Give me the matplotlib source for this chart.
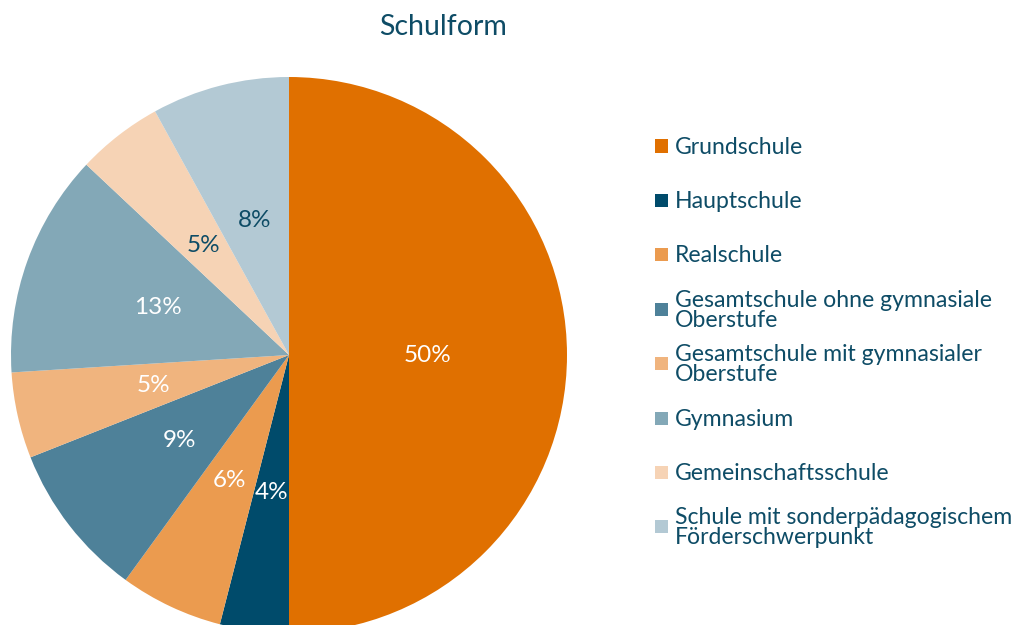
import matplotlib.pyplot as plt
import numpy as np
from matplotlib.patches import Rectangle

plt.rcParams['font.family'] = ['Lato', 'DejaVu Sans']

kategorien = ['Grundschule', 'Hauptschule', 'Realschule',
              'Gesamtschule ohne gymnasiale\nOberstufe',
              'Gesamtschule mit gymnasialer\nOberstufe',
              'Gymnasium', 'Gemeinschaftsschule',
              'Schule mit sonderpädagogischem\nFörderschwerpunkt']
anteile = [50, 4, 6, 9, 5, 13, 5, 8]
farben = ['#E07000', '#004B6B', '#EB9B4F', '#4E8199',
          '#F0B47E', '#83A8B7', '#F6D3B5', '#B3C9D4']
label_farben = ['white', 'white', 'white', 'white',
                'white', 'white', '#0E4C66', '#0E4C66']
textfarbe = '#0E4C66'

fig = plt.figure(figsize=(10.21, 6.25), dpi=100)
ax = fig.add_axes([11 / 1021, -8 / 625, 556 / 1021, 556 / 625])

wedges, texts = ax.pie(anteile, colors=farben, startangle=90, counterclock=False,
                       radius=1, wedgeprops=dict(linewidth=0))
for w, v, c in zip(wedges, anteile, label_farben):
    mid = np.deg2rad((w.theta1 + w.theta2) / 2)
    ax.text(0.5 * np.cos(mid), 0.5 * np.sin(mid), f'{v}%', color=c,
            fontsize=17.5, ha='center', va='center')
ax.set_xlim(-1, 1)
ax.set_ylim(-1, 1)
ax.set_aspect('equal')
ax.axis('off')

fig.text(443 / 1021, 1 - 27 / 625, 'Schulform', fontsize=20.5, color=textfarbe,
         ha='center', va='center')

# Legende von Hand
for i, (k, f) in enumerate(zip(kategorien, farben)):
    yc = 146 + i * 54.4
    fig.patches.append(Rectangle((655 / 1021, 1 - (yc + 6.5) / 625), 13 / 1021, 13 / 625,
                                 transform=fig.transFigure, color=f, linewidth=0))
    fig.text(675 / 1021, 1 - (yc + 1) / 625, k, fontsize=16.6, color=textfarbe,
             ha='left', va='center', linespacing=0.95)

fig.savefig('out.png', dpi=100)
